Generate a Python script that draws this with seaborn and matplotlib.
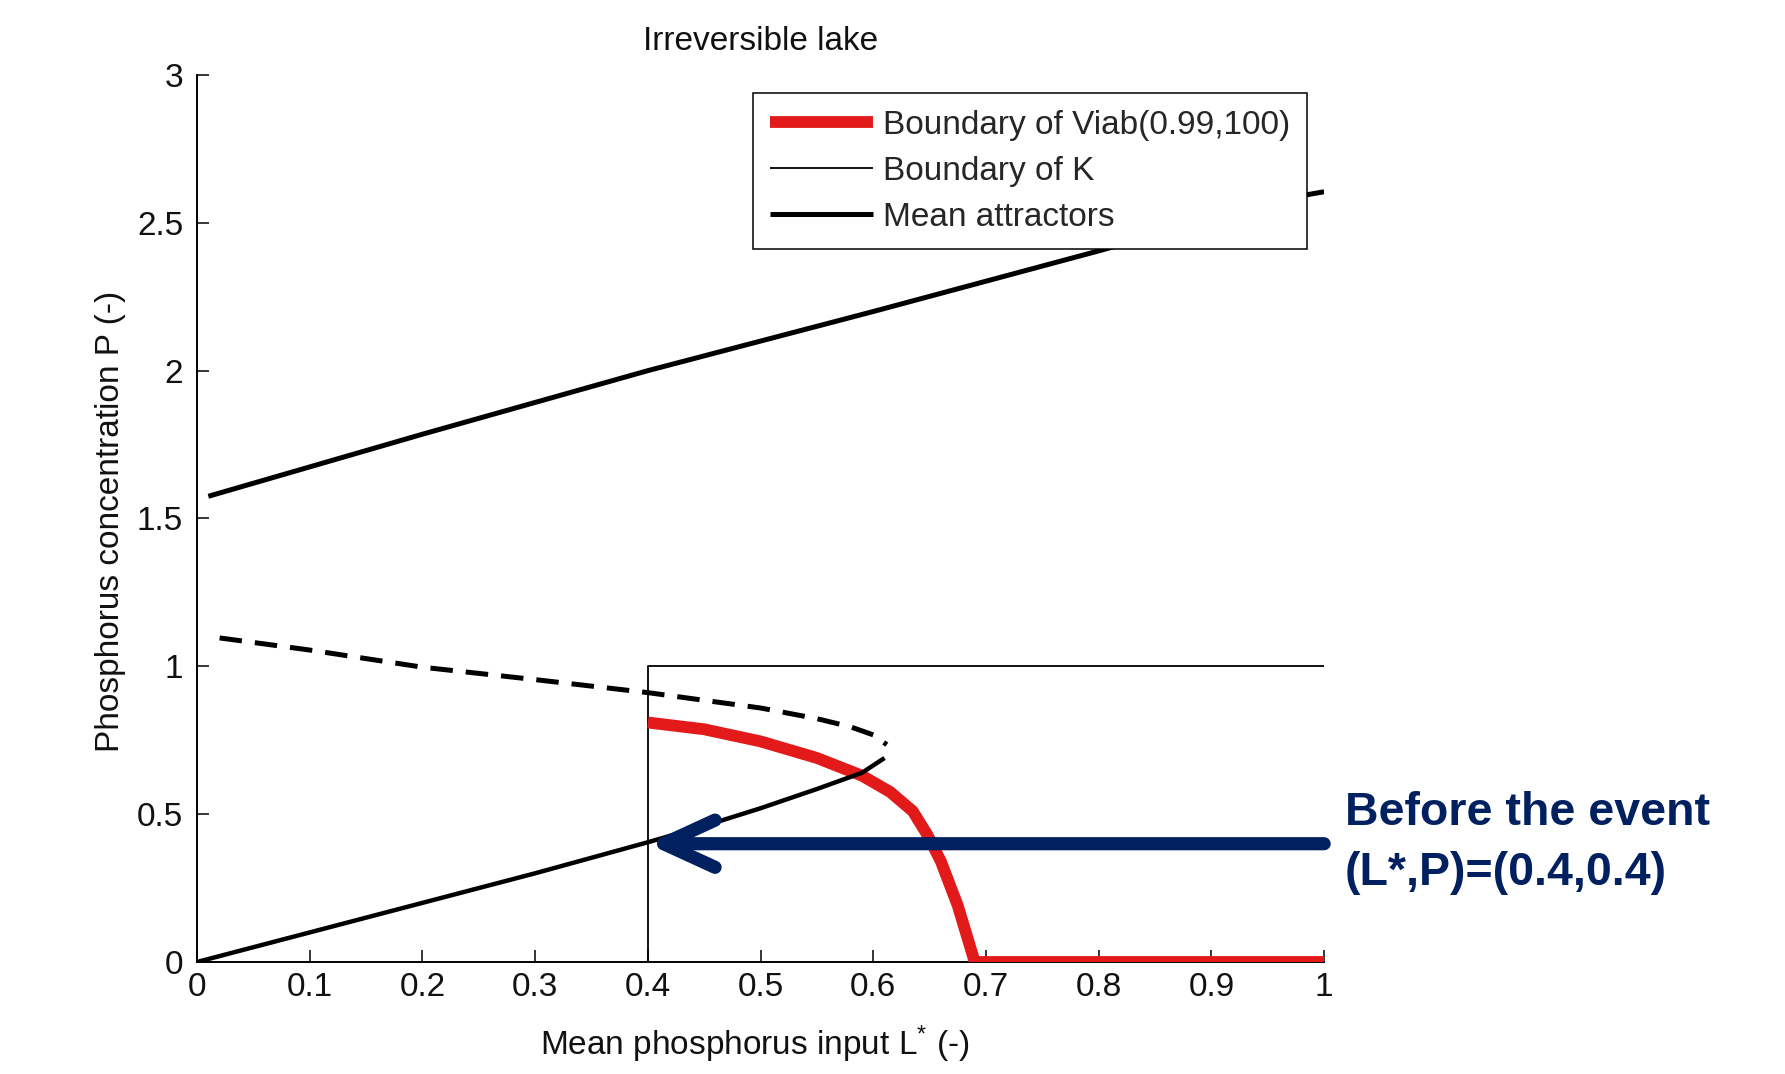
import numpy as np
import pandas as pd
import matplotlib
matplotlib.use('Agg')
import matplotlib.pyplot as plt
import seaborn as sns

# values
upper_L = [0.01, 0.2, 0.4, 0.6, 0.8, 0.97, 1.0]
upper_P = [1.575, 1.785, 2.0, 2.2, 2.405, 2.585, 2.605]

lower_L = [0.0, 0.1, 0.2, 0.3, 0.4, 0.45, 0.5, 0.55, 0.59, 0.61]
lower_P = [0.0, 0.1, 0.2, 0.3, 0.405, 0.46, 0.52, 0.585, 0.64, 0.69]

unstable_L = [0.02, 0.1, 0.2, 0.3, 0.4, 0.5, 0.55, 0.58, 0.6, 0.612]
unstable_P = [1.096, 1.055, 0.997, 0.955, 0.911, 0.859, 0.823, 0.795, 0.768, 0.735]

viab_L = [0.4, 0.45, 0.5, 0.55, 0.59, 0.615, 0.635, 0.648, 0.66, 0.675, 0.69, 1.0]
viab_P = [0.81, 0.787, 0.746, 0.69, 0.63, 0.575, 0.51, 0.43, 0.34, 0.19, 0.0, 0.0]

k_L = [0.4, 0.4, 1.0]
k_P = [0.0, 1.0, 1.0]

event_L, event_P = 0.4, 0.4

x_ticks = [0, 0.1, 0.2, 0.3, 0.4, 0.5, 0.6, 0.7, 0.8, 0.9, 1]
x_ticklabels = ['0', '0.1', '0.2', '0.3', '0.4', '0.5', '0.6', '0.7', '0.8', '0.9', '1']
y_ticks = [0, 0.5, 1, 1.5, 2, 2.5, 3]
y_ticklabels = ['0', '0.5', '1', '1.5', '2', '2.5', '3']

sns.set_theme(style='white')
plt.rcParams['font.family'] = ['Liberation Sans', 'DejaVu Sans']
plt.rcParams['mathtext.fontset'] = 'custom'
plt.rcParams['mathtext.rm'] = 'Liberation Sans'
plt.rcParams['mathtext.it'] = 'Liberation Sans:italic'
plt.rcParams['lines.solid_capstyle'] = 'butt'

red = '#e31a1a'
navy = '#002060'
fs = 24

fig = plt.figure(figsize=(17.85, 10.74), dpi=100)
ax = fig.add_axes([0.1104, 0.1043, 0.6314, 0.8259])

# boundary of K
sns.lineplot(x=k_L, y=k_P, ax=ax, color='black', linewidth=1.3,
             estimator=None, sort=False, label='Boundary of K', zorder=2)
# boundary of viability kernel
sns.lineplot(x=viab_L, y=viab_P, ax=ax, color=red, linewidth=8.5,
             estimator=None, sort=False, label='Boundary of Viab(0.99,100)', zorder=3)
# mean attractors
sns.lineplot(x=upper_L, y=upper_P, ax=ax, color='black', linewidth=3.6,
             estimator=None, sort=False, label='Mean attractors', zorder=4)
sns.lineplot(x=lower_L, y=lower_P, ax=ax, color='black', linewidth=3.2,
             estimator=None, sort=False, zorder=4)
sns.lineplot(x=unstable_L, y=unstable_P, ax=ax, color='black', linewidth=3.6,
             estimator=None, sort=False, zorder=4)
ax.lines[-1].set_dashes((4.5, 2.6))

ax.set_xlim(0, 1)
ax.set_ylim(0, 3)
ax.set_xticks(x_ticks)
ax.set_xticklabels(x_ticklabels)
ax.set_yticks(y_ticks)
ax.set_yticklabels(y_ticklabels)
ax.tick_params(axis='both', direction='in', length=8.6, width=1.1,
               bottom=True, left=True, labelsize=fs, colors='black',
               labelcolor='#111111')
ax.tick_params(axis='x', pad=7)
ax.tick_params(axis='y', pad=10)
sns.despine(ax=ax)
for side in ['left', 'bottom']:
    ax.spines[side].set_linewidth(1.4)
    ax.spines[side].set_color('black')

ax.set_title('Irreversible lake', fontsize=fs, pad=18, color='#111111')
ax.set_xlabel('Mean phosphorus input L$^{*}$ (-)', fontsize=fs, color='#111111')
ax.set_ylabel('Phosphorus concentration P (-)', fontsize=fs, color='#111111')
ax.xaxis.label.set_va('baseline')
ax.xaxis.set_label_coords(0.495, -0.1048)
ax.yaxis.label.set_va('baseline')
ax.yaxis.set_label_coords(-0.0692, 0.4964)

# legend in red / K / attractors order
handles, labels = ax.get_legend_handles_labels()
order = [labels.index('Boundary of Viab(0.99,100)'),
         labels.index('Boundary of K'),
         labels.index('Mean attractors')]
leg = ax.legend([handles[i] for i in order], [labels[i] for i in order],
                loc='upper right', bbox_to_anchor=(0.985, 0.9797),
                borderaxespad=0, fontsize=fs, frameon=True, fancybox=False,
                framealpha=1, edgecolor='black', handlelength=3.1,
                handletextpad=0.3, labelspacing=0.45, borderpad=0.5)
leg.get_frame().set_linewidth(1.1)
leg.set_zorder(5)

# arrow pointing at the state before the event
ax.annotate('', xy=(event_L, event_P), xytext=(1.0, event_P),
            arrowprops=dict(arrowstyle='->, head_length=37, head_width=17',
                            mutation_scale=1, color=navy, lw=9.5,
                            shrinkA=0, shrinkB=0,
                            capstyle='round', joinstyle='round'),
            zorder=6, annotation_clip=False)

fig.text(0.7535, 1 - 825 / 1074, 'Before the event', fontsize=33.5,
         fontweight='bold', color=navy, va='baseline', ha='left')
fig.text(0.7535, 1 - 885 / 1074, '(L*,P)=(0.4,0.4)', fontsize=33.5,
         fontweight='bold', color=navy, va='baseline', ha='left')

fig.savefig('out.png', dpi=100)
